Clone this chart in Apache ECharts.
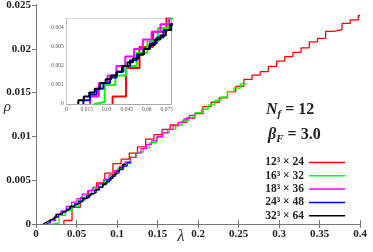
<!DOCTYPE html>
<html><head><meta charset="utf-8">
<script src="https://cdn.jsdelivr.net/npm/echarts@6/dist/echarts.min.js"></script>
<style>html,body{margin:0;padding:0;background:#fff}#c{width:373px;height:252px}</style>
</head><body><div id="c"></div>
<script>
const seriesNames = ['12³ × 24', '16³ × 32', '18³ × 36', '24³ × 48', '32³ × 64'];
const seriesColors = ['#ff0000', '#00ff00', '#ff00ff', '#0000ff', '#000000'];

const redEdges = [0.0344, 0.0445, 0.0546, 0.0647, 0.0748, 0.0849, 0.0950, 0.1051, 0.1152, 0.1253, 0.1354, 0.1455, 0.1556, 0.1657, 0.1758, 0.1859, 0.1960, 0.2061, 0.2162, 0.2263, 0.2364, 0.2465, 0.2566, 0.2667, 0.2768, 0.2869, 0.2970, 0.3071, 0.3172, 0.3273, 0.3374, 0.3475, 0.3576, 0.3677, 0.3778, 0.3879, 0.3980, 0.4000];
const redValues = [0.0004, 0.0019, 0.0030, 0.0038, 0.0047, 0.0058, 0.0069, 0.0074, 0.0081, 0.0088, 0.0097, 0.0102, 0.0108, 0.0113, 0.0116, 0.0121, 0.0126, 0.0134, 0.0139, 0.0144, 0.0151, 0.0157, 0.0165, 0.0170, 0.0174, 0.0180, 0.0186, 0.0191, 0.0196, 0.0201, 0.0208, 0.0212, 0.0220, 0.0222, 0.0229, 0.0233, 0.0238];

const greenEdges = [0.0205, 0.0285, 0.0365, 0.0445, 0.0525, 0.0605, 0.0685, 0.0765, 0.0845, 0.0925, 0.1005, 0.1085, 0.1165, 0.1245, 0.1325, 0.1405, 0.1485, 0.1565, 0.1645, 0.1725, 0.1805, 0.1885, 0.1965, 0.2045, 0.2125, 0.2205, 0.2285, 0.2365, 0.2445, 0.2525, 0.2605];
const greenValues = [0.0001, 0.0010, 0.0015, 0.0020, 0.0027, 0.0033, 0.0040, 0.0045, 0.0050, 0.0057, 0.0064, 0.0069, 0.0076, 0.0082, 0.0087, 0.0093, 0.0099, 0.0104, 0.0108, 0.0113, 0.0118, 0.0122, 0.0127, 0.0131, 0.0136, 0.0141, 0.0145, 0.0151, 0.0155, 0.0160];

const magentaEdges = [0.0175, 0.0241, 0.0307, 0.0373, 0.0439, 0.0505, 0.0571, 0.0637, 0.0703, 0.0769, 0.0835, 0.0901, 0.0967, 0.1033, 0.1099, 0.1165, 0.1231, 0.1297, 0.1363, 0.1429, 0.1495, 0.1561, 0.1627, 0.1693, 0.1759, 0.1825, 0.1891, 0.1957];
const magentaValues = [0.0004, 0.0011, 0.0015, 0.0020, 0.0025, 0.0029, 0.0034, 0.0038, 0.0042, 0.0046, 0.0051, 0.0056, 0.0061, 0.0066, 0.0071, 0.0076, 0.0081, 0.0086, 0.0091, 0.0095, 0.0100, 0.0104, 0.0108, 0.0112, 0.0116, 0.0120, 0.0124];

const blueEdges = [0.0125, 0.0175, 0.0225, 0.0275, 0.0325, 0.0375, 0.0425, 0.0475, 0.0525, 0.0575, 0.0625, 0.0675, 0.0725, 0.0775, 0.0825, 0.0875, 0.0925, 0.0975, 0.1025, 0.1075, 0.1125, 0.1175];
const blueValues = [0.0002, 0.0005, 0.0008, 0.0011, 0.0014, 0.0017, 0.0020, 0.0023, 0.0026, 0.0029, 0.0032, 0.0035, 0.0039, 0.0042, 0.0046, 0.0050, 0.0054, 0.0058, 0.0062, 0.0066, 0.0070];

const blackEdges = [0.0087, 0.0128, 0.0169, 0.0210, 0.0251, 0.0292, 0.0333, 0.0374, 0.0415, 0.0456, 0.0497, 0.0538, 0.0579, 0.0620, 0.0661, 0.0702, 0.0743, 0.0784, 0.0825, 0.0866, 0.0907, 0.0948, 0.0989, 0.1030, 0.1071, 0.1112];
const blackValues = [0.0002, 0.0004, 0.0006, 0.0008, 0.0011, 0.0013, 0.0015, 0.0017, 0.0020, 0.0022, 0.0024, 0.0026, 0.0029, 0.0031, 0.0034, 0.0036, 0.0039, 0.0042, 0.0045, 0.0048, 0.0052, 0.0056, 0.0060, 0.0064, 0.0068];

const mainXTicks = {min: 0, max: 0.4, interval: 0.05};
const mainYTicks = {min: 0, max: 0.025, interval: 0.005};
const insetXTicks = {min: 0, max: 0.0782, interval: 0.015};
const insetYTicks = {min: 0, max: 0.0045, interval: 0.001};

const allEdges = [redEdges, greenEdges, magentaEdges, blueEdges, blackEdges];
const allValues = [redValues, greenValues, magentaValues, blueValues, blackValues];

function stepPoints(edges, values) {
  const pts = [[edges[0], 0]];
  for (let i = 0; i < values.length; i++) pts.push([edges[i], values[i]]);
  pts.push([edges[edges.length - 1], values[values.length - 1]]);
  return pts;
}

const serif = 'Liberation Serif';
const axisCol = '#777';

const series = [];
for (let s = 0; s < 5; s++) {
  const pts = stepPoints(allEdges[s], allValues[s]);
  series.push({
    name: seriesNames[s], type: 'line', step: 'end', data: pts,
    xAxisIndex: 0, yAxisIndex: 0, showSymbol: false, symbol: 'none',
    lineStyle: {color: seriesColors[s], width: 1.3}, itemStyle: {color: seriesColors[s]},
    animation: false, z: 3
  });
}
for (let s = 0; s < 5; s++) {
  const pts = stepPoints(allEdges[s], allValues[s]);
  series.push({
    name: seriesNames[s], type: 'line', step: 'end', data: pts,
    xAxisIndex: 2, yAxisIndex: 2, showSymbol: false, symbol: 'none', clip: true,
    lineStyle: {color: seriesColors[s], width: 2}, itemStyle: {color: seriesColors[s]},
    animation: false, z: 6
  });
}

const chart = echarts.init(document.getElementById('c'), null, {renderer: 'canvas'});
chart.setOption({
  animation: false,
  backgroundColor: '#fff',
  grid: [
    {left: 36, right: 13, top: 5, bottom: 28, show: false, containLabel: false, outerBoundsMode: 'none'},
    {left: 66.7, top: 18.5, width: 104.3, height: 85.5, show: true, backgroundColor: '#fff', borderWidth: 0, z: 5, containLabel: false, outerBoundsMode: 'none'}
  ],
  xAxis: [
    {gridIndex: 0, type: 'value', min: mainXTicks.min, max: mainXTicks.max, interval: mainXTicks.interval, position: 'bottom',
     name: 'λ', nameLocation: 'middle', nameGap: 4, nameMoveOverlap: false,
     nameTextStyle: {fontFamily: serif, fontStyle: 'italic', fontSize: 17, color: '#333', padding: [0, 34, 0, 0], verticalAlign: 'top'},
     axisLine: {lineStyle: {color: axisCol, width: 1}}, axisTick: {inside: true, length: 4, lineStyle: {color: axisCol}},
     axisLabel: {fontFamily: serif, fontWeight: 'bold', fontSize: 11, color: '#222', margin: 5}, splitLine: {show: false}},
    {gridIndex: 0, type: 'value', min: mainXTicks.min, max: mainXTicks.max, interval: mainXTicks.interval, position: 'top',
     axisLine: {lineStyle: {color: axisCol, width: 1}}, axisTick: {inside: true, length: 4, lineStyle: {color: axisCol}},
     axisLabel: {show: false}, splitLine: {show: false}},
    {gridIndex: 1, type: 'value', min: insetXTicks.min, max: insetXTicks.max, interval: insetXTicks.interval, position: 'bottom',
     axisLine: {onZero: false, lineStyle: {color: '#aaa', width: 1}}, axisTick: {inside: true, length: 2, lineStyle: {color: '#aaa'}},
     axisLabel: {fontFamily: serif, fontSize: 5.5, color: '#555', margin: 3, showMaxLabel: false}, splitLine: {show: false}},
    {gridIndex: 1, type: 'value', min: insetXTicks.min, max: insetXTicks.max, interval: insetXTicks.interval, position: 'top',
     axisLine: {onZero: false, lineStyle: {color: '#aaa', width: 1}}, axisTick: {inside: true, length: 2, lineStyle: {color: '#aaa'}},
     axisLabel: {show: false}, splitLine: {show: false}}
  ],
  yAxis: [
    {gridIndex: 0, type: 'value', min: mainYTicks.min, max: mainYTicks.max, interval: mainYTicks.interval, position: 'left',
     name: 'ρ', nameLocation: 'middle', nameGap: 25, nameRotate: 0, nameMoveOverlap: false,
     nameTextStyle: {fontFamily: serif, fontStyle: 'italic', fontSize: 15, color: '#333', verticalAlign: 'bottom'},
     axisLine: {lineStyle: {color: axisCol, width: 1}}, axisTick: {inside: false, length: 3, lineStyle: {color: axisCol}},
     axisLabel: {fontFamily: serif, fontWeight: 'bold', fontSize: 11, color: '#222', margin: 5}, splitLine: {show: false}},
    {gridIndex: 0, type: 'value', min: mainYTicks.min, max: mainYTicks.max, interval: mainYTicks.interval, position: 'right',
     axisLine: {lineStyle: {color: axisCol, width: 1}}, axisTick: {inside: true, length: 4, lineStyle: {color: axisCol}},
     axisLabel: {show: false}, splitLine: {show: false}},
    {gridIndex: 1, type: 'value', min: insetYTicks.min, max: insetYTicks.max, interval: insetYTicks.interval, position: 'left',
     axisLine: {onZero: false, lineStyle: {color: '#aaa', width: 1}}, axisTick: {inside: true, length: 2, lineStyle: {color: '#aaa'}},
     axisLabel: {fontFamily: serif, fontSize: 5.5, color: '#555', margin: 3, showMaxLabel: false}, splitLine: {show: false}},
    {gridIndex: 1, type: 'value', min: insetYTicks.min, max: insetYTicks.max, interval: insetYTicks.interval, position: 'right',
     axisLine: {onZero: false, lineStyle: {color: '#aaa', width: 1}}, axisTick: {inside: true, length: 2, lineStyle: {color: '#aaa'}},
     axisLabel: {show: false}, splitLine: {show: false}}
  ],
  legend: {
    data: seriesNames, orient: 'vertical', right: 28, top: 156.5, align: 'right',
    icon: 'rect', itemWidth: 36, itemHeight: 1.5, itemGap: 1.3, padding: 0,
    textStyle: {fontFamily: serif, fontWeight: 'bold', fontSize: 11.5, color: '#222', lineHeight: 12}
  },
  graphic: [
    {type: 'text', left: 266, top: 102, z: 10, style: {
      text: '{i|N}{s|f}{b| = 12}', fontFamily: serif,
      rich: {
        i: {fontFamily: serif, fontStyle: 'italic', fontWeight: 'bold', fontSize: 16, fill: '#222'},
        s: {fontFamily: serif, fontStyle: 'italic', fontWeight: 'bold', fontSize: 11, fill: '#222', padding: [8, 0, 0, 0]},
        b: {fontFamily: serif, fontWeight: 'bold', fontSize: 16, fill: '#222'}
      }}},
    {type: 'text', left: 268, top: 127, z: 10, style: {
      text: '{i|β}{s|F}{b| = 3.0}', fontFamily: serif,
      rich: {
        i: {fontFamily: serif, fontStyle: 'italic', fontWeight: 'bold', fontSize: 16, fill: '#222'},
        s: {fontFamily: serif, fontStyle: 'italic', fontWeight: 'bold', fontSize: 11, fill: '#222', padding: [8, 0, 0, 0]},
        b: {fontFamily: serif, fontWeight: 'bold', fontSize: 16, fill: '#222'}
      }}}
  ],
  series: series
});
</script></body></html>
